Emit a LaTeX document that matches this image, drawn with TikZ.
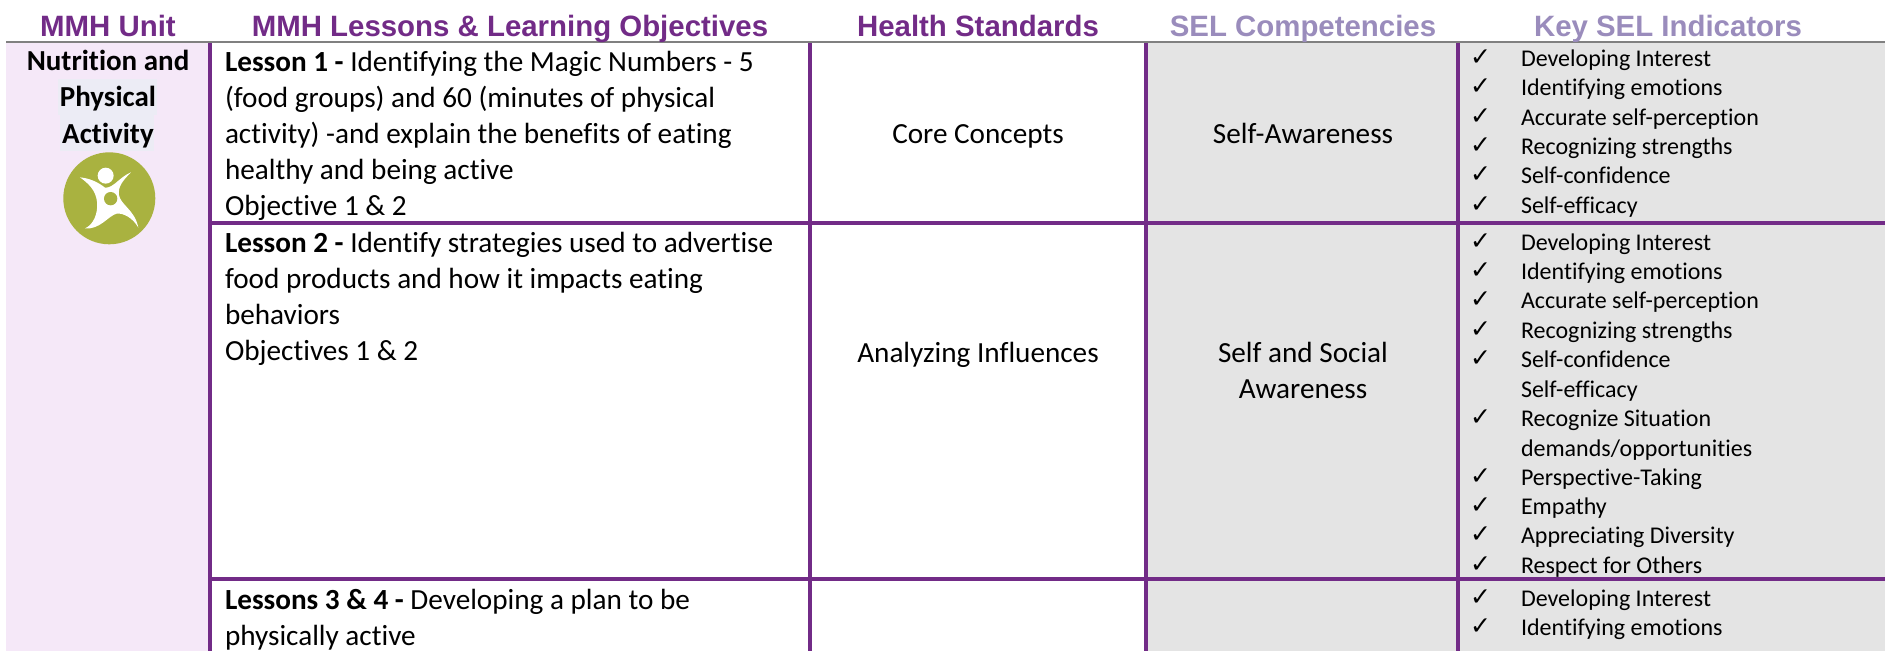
\documentclass[tikz,border=0pt]{standalone}
\usepackage{fontspec}
\setmainfont{Carlito}[Ligatures=NoCommon]
\newfontfamily\headfont{Liberation Sans}
\newfontfamily\chkfont{DejaVu Sans}
\definecolor{mmhpurple}{HTML}{722B87}
\definecolor{sellilac}{HTML}{9A8CBC}
\definecolor{unitbg}{HTML}{F5E8F8}
\definecolor{cellgray}{HTML}{E4E4E4}
\definecolor{hilite}{HTML}{ECECF5}
\definecolor{iconolive}{HTML}{A9B240}
\definecolor{rulegray}{HTML}{808080}
\tikzset{
 x=1pt,y=-1pt,
 base/.style={inner sep=0pt,outer sep=0pt},
 headp/.style={base,anchor=base,font=\headfont\fontsize{29.4}{32}\selectfont\bfseries,text=mmhpurple},
 headl/.style={headp,text=sellilac},
 unit/.style={base,anchor=base,font=\fontsize{29}{32}\selectfont\bfseries},
 lesson/.style={base,anchor=base west,font=\fontsize{29.2}{32}\selectfont},
 mid/.style={base,anchor=base,font=\fontsize{29.2}{32}\selectfont},
 ind/.style={base,anchor=base west,font=\fontsize{24}{28}\selectfont},
 chk/.style={base,anchor=base west,font=\chkfont\fontsize{25}{28}\selectfont},
 vrule/.style={mmhpurple,line width=4pt},
 hrule/.style={mmhpurple,line width=4pt},
}
\newcommand{\indline}[3]{\node[chk] (c#1) at (1470,#2+6) {✓};\node[ind] (i#1) at (1521,#2+7) {#3};}
\newcommand{\indplain}[3]{\node[ind] (i#1) at (1521,#2+7) {#3};}
\begin{document}
\begin{tikzpicture}
\useasboundingbox (0,0) rectangle (1885,651);
\fill[white] (0,0) rectangle (1885,651);
\fill[unitbg] (6,42) rectangle (210,651);
\fill[cellgray] (1146,42) rectangle (1885,651);
\fill[hilite] (58,79) rectangle (157,115);
\fill[hilite] (60,115) rectangle (154,151);
% grid
\draw[hrule] (210,222.5) -- (1885,222.5);
\draw[hrule] (210,579) -- (1885,579);
\draw[vrule] (210,42) -- (210,651);
\draw[vrule] (810,42) -- (810,651);
\draw[vrule] (1146,42) -- (1146,651);
\draw[vrule] (1458,42) -- (1458,651);
\draw[rulegray,line width=2pt] (6,42) -- (1885,42);
% icon
\fill[iconolive] (109.3,198.3) circle (46);
\begin{scope}[shift={(55,145)},x=0.3333pt,y=-0.3333pt]
\fill[white] (152,92) circle (24);
\fill[white] (75,97) .. controls (105,100) and (130,112) .. (150,128)
  .. controls (175,130) and (195,95) .. (228,82)
  .. controls (205,105) and (188,125) .. (192,150)
  .. controls (197,180) and (240,195) .. (250,248)
  .. controls (235,220) and (205,203) .. (185,206)
  .. controls (160,212) and (135,255) .. (90,250)
  .. controls (115,240) and (130,205) .. (126,170)
  .. controls (122,135) and (100,115) .. (75,97) -- cycle;
\fill[iconolive] (167,161) circle (20);
\end{scope}
\begin{scope}[yshift=-1pt]
% headers
\node[headp] (h1) at (108,35) {MMH Unit};
\node[headp] (h2) at (510,35) {MMH Lessons \& Learning Objectives};
\node[headp] (h3) at (978,35) {Health Standards};
\node[headl] (h4) at (1303,35) {SEL Competencies};
\node[headl] (h5) at (1668,35) {Key SEL Indicators};
% unit
\node[unit] (u1) at (108,69) {Nutrition and};
\node[unit] (u2) at (108,105) {Physical};
\node[unit] (u3) at (108,142) {Activity};
% lessons
\node[lesson] (l1a) at (225,70) {\textbf{Lesson 1 -} Identifying the Magic Numbers - 5};
\node[lesson] (l1b) at (225,106) {(food groups) and 60 (minutes of physical};
\node[lesson] (l1c) at (225,142) {activity) -and explain the benefits of eating};
\node[lesson] (l1d) at (225,178) {healthy and being active};
\node[lesson] (l1e) at (225,214) {Objective 1 \& 2};
\node[lesson] (l2a) at (225,251) {\textbf{Lesson 2 -} Identify strategies used to advertise};
\node[lesson] (l2b) at (225,287) {food products and how it impacts eating};
\node[lesson] (l2c) at (225,323) {behaviors};
\node[lesson] (l2d) at (225,359) {Objectives 1 \& 2};
\node[lesson] (l3a) at (225,608) {\textbf{Lessons 3 \& 4 -} Developing a plan to be};
\node[lesson] (l3b) at (225,644) {physically active};
% standards
\node[mid] (s1) at (978,142) {Core Concepts};
\node[mid] (s2) at (978,361) {Analyzing Influences};
% competencies
\node[mid] (k1) at (1303,142) {Self-Awareness};
\node[mid] (k2) at (1303,361) {Self and Social};
\node[mid] (k3) at (1303,397) {Awareness};
% indicators
\indline{a1}{58}{Developing Interest}
\indline{a2}{87}{Identifying emotions}
\indline{a3}{117}{Accurate self-perception}
\indline{a4}{146}{Recognizing strengths}
\indline{a5}{175}{Self-confidence}
\indline{a6}{205}{Self-efficacy}
\indline{b1}{242}{Developing Interest}
\indline{b2}{271}{Identifying emotions}
\indline{b3}{300}{Accurate self-perception}
\indline{b4}{330}{Recognizing strengths}
\indline{b5}{359}{Self-confidence}
\indplain{b6}{389}{Self-efficacy}
\indline{b7}{418}{Recognize Situation}
\indplain{b8}{448}{demands/opportunities}
\indline{b9}{477}{Perspective-Taking}
\indline{b10}{506}{Empathy}
\indline{b11}{535}{Appreciating Diversity}
\indline{b12}{565}{Respect for Others}
\indline{c1}{598}{Developing Interest}
\indline{c2}{627}{Identifying emotions}
\end{scope}
\end{tikzpicture}
\end{document}
